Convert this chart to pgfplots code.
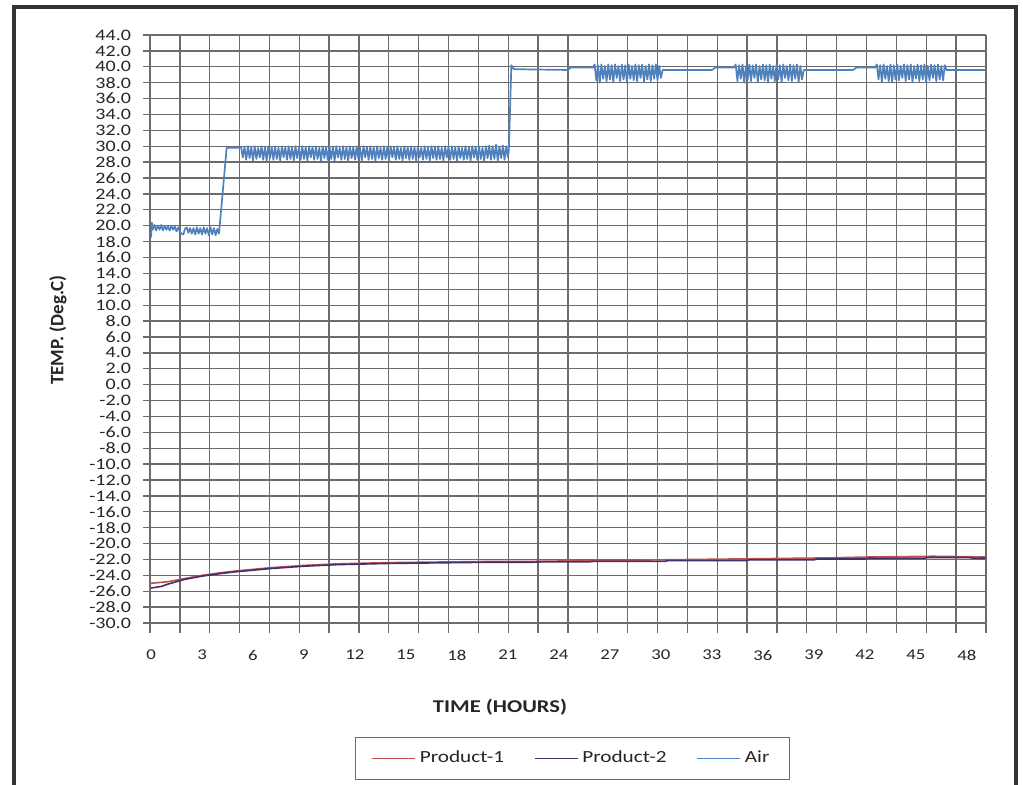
\documentclass[border=0pt]{standalone}
\usepackage{fontspec}
\setmainfont{Carlito}[FakeStretch=1.25]
\newfontfamily\plainfont{Carlito}
\usepackage{pgfplots}
\pgfplotsset{compat=1.18}
\definecolor{airblue}{RGB}{79,129,189}
\definecolor{prodone}{RGB}{192,80,77}
\definecolor{prodtwo}{RGB}{64,49,110}
\definecolor{gridc}{RGB}{108,108,108}

\pgfplotstableread{
h T
0 -25.0
0.5 -24.9
1.0 -24.8
1.5 -24.6
2.0 -24.4
2.5 -24.2
3.0 -24.0
3.5 -23.85
4 -23.7
5 -23.45
6 -23.25
7 -23.05
8 -22.9
9 -22.75
10 -22.65
11 -22.55
12 -22.5
14 -22.4
16 -22.35
18 -22.3
20 -22.25
22 -22.25
24 -22.2
26 -22.15
28 -22.1
30 -22.05
32 -22.0
34 -21.95
36 -21.9
38 -21.85
40 -21.8
42 -21.7
44 -21.65
46 -21.6
48 -21.65
49.1 -21.7
}\prodone

\pgfplotstableread{
h T
0 -25.6
0.3 -25.5
0.6 -25.4
1.0 -25.1
1.5 -24.8
2.0 -24.5
2.5 -24.3
3 -24.1
3.5 -23.95
4 -23.8
5 -23.55
6 -23.35
7 -23.15
8 -23.0
9 -22.85
10 -22.75
11 -22.65
12 -22.6
14 -22.5
16 -22.45
18 -22.4
20 -22.35
22.5 -22.35
23 -22.3
25.8 -22.3
26 -22.25
30.2 -22.25
30.4 -22.15
35 -22.15
35.2 -22.05
39 -22.05
39.2 -21.95
42 -21.95
42.2 -21.85
45.5 -21.85
45.7 -21.75
48 -21.75
48.5 -21.85
49.1 -21.85
}\prodtwo

\pgfplotstableread{
h T
0 18.5
0.05 20.4
0.1 19.5
0.2 20.1
0.3 19.4
0.4 20.0
0.5 19.5
0.6 20.1
0.7 19.4
0.8 20.0
0.9 19.5
1.0 19.9
1.1 19.4
1.2 20.0
1.3 19.5
1.4 19.9
1.5 19.3
1.6 19.8
1.7 19.2
1.8 19.0
1.9 18.9
2.0 19.6
2.1 19.8
2.2 19.1
2.3 19.7
2.4 19.0
2.5 19.7
2.6 18.9
2.7 19.8
2.8 19.0
2.9 19.7
3.0 18.9
3.1 19.8
3.2 19.0
3.3 19.7
3.4 18.8
3.5 19.8
3.6 18.9
3.7 19.7
3.8 18.8
3.9 19.6
4.0 19.0
4.45 29.8
5.1 29.8
5.3 29.9
5.4 28.6
5.5 29.9
5.6 28.3
5.7 30.0
5.8 28.5
5.9 29.9
6.0 28.2
6.1 30.0
6.2 28.4
6.3 29.8
6.4 28.6
6.5 30.0
6.6 28.3
6.7 29.9
6.8 28.2
6.9 30.0
7.0 28.5
7.1 29.9
7.2 28.3
7.3 30.0
7.4 28.4
7.5 29.8
7.6 28.2
7.7 30.0
7.8 28.6
7.9 29.9
8.0 28.3
8.1 30.0
8.2 28.4
8.3 29.9
8.4 28.2
8.5 30.0
8.6 28.5
8.7 29.8
8.8 28.3
8.9 30.0
9.0 28.4
9.1 29.9
9.2 28.2
9.3 30.0
9.4 28.6
9.5 29.9
9.6 28.3
9.7 30.0
9.8 28.4
9.9 29.8
10.0 28.2
10.1 30.0
10.2 28.5
10.3 29.9
10.4 28.3
10.5 30.0
10.6 28.4
10.7 29.9
10.8 28.2
10.9 30.0
11.0 28.6
11.1 29.8
11.2 28.3
11.3 30.0
11.4 28.4
11.5 29.9
11.6 28.2
11.7 30.0
11.8 28.5
11.9 29.9
12.0 28.3
12.1 30.0
12.2 28.4
12.3 29.8
12.4 28.2
12.5 30.0
12.6 28.6
12.7 29.9
12.8 28.3
12.9 30.0
13.0 28.4
13.1 29.9
13.2 28.2
13.3 30.0
13.4 28.5
13.5 29.8
13.6 28.3
13.7 30.0
13.8 28.4
13.9 29.9
14.0 28.2
14.1 30.0
14.2 28.6
14.3 29.9
14.4 28.3
14.5 30.0
14.6 28.4
14.7 29.8
14.8 28.2
14.9 30.0
15.0 28.5
15.1 29.9
15.2 28.3
15.3 30.0
15.4 28.4
15.5 29.9
15.6 28.2
15.7 30.0
15.8 28.6
15.9 29.8
16.0 28.3
16.1 30.0
16.2 28.4
16.3 29.9
16.4 28.2
16.5 30.0
16.6 28.5
16.7 29.9
16.8 28.3
16.9 30.0
17.0 28.4
17.1 29.8
17.2 28.2
17.3 30.0
17.4 28.6
17.5 29.9
17.6 28.3
17.7 30.0
17.8 28.4
17.9 29.9
18.0 28.2
18.1 30.0
18.2 28.5
18.3 29.8
18.4 28.3
18.5 30.0
18.6 28.4
18.7 29.9
18.8 28.2
18.9 30.0
19.0 28.6
19.1 29.9
19.2 28.3
19.3 30.0
19.4 28.4
19.5 29.8
19.6 28.2
19.7 30.0
19.8 28.5
19.9 30.1
20.0 28.3
20.1 30.0
20.2 28.4
20.3 30.2
20.4 28.2
20.5 30.0
20.6 28.5
20.7 30.1
20.8 28.3
20.9 30.0
21.0 28.6
21.05 29.5
21.2 40.2
21.35 39.7
24.5 39.6
24.7 39.9
26.0 39.9
26.1 40.3
26.2 38.3
26.3 40.2
26.4 38.0
26.5 40.3
26.6 38.5
26.7 40.1
26.8 38.2
26.9 40.3
27.0 38.4
27.1 40.2
27.2 38.1
27.3 40.3
27.4 38.6
27.5 40.1
27.6 38.2
27.7 40.3
27.8 38.4
27.9 40.2
28.0 38.0
28.1 40.3
28.2 38.5
28.3 40.1
28.4 38.3
28.5 40.3
28.6 38.2
28.7 40.2
28.8 38.6
28.9 40.3
29.0 38.1
29.1 40.1
29.2 38.4
29.3 40.3
29.4 38.2
29.5 40.2
29.6 38.5
29.7 40.3
29.8 38.3
29.9 40.1
30.0 38.6
30.1 39.6
33.0 39.6
33.2 39.9
34.3 39.9
34.4 40.3
34.5 38.2
34.6 40.2
34.7 38.5
34.8 40.3
34.9 38.0
35.0 40.1
35.1 38.4
35.2 40.3
35.3 38.2
35.4 40.2
35.5 38.6
35.6 40.3
35.7 38.1
35.8 40.1
35.9 38.4
36.0 40.3
36.1 38.3
36.2 40.2
36.3 38.0
36.4 40.3
36.5 38.5
36.6 40.1
36.7 38.2
36.8 40.3
36.9 38.4
37.0 40.2
37.1 38.1
37.2 40.3
37.3 38.6
37.4 40.1
37.5 38.3
37.6 40.3
37.7 38.2
37.8 40.2
37.9 38.5
38.0 40.3
38.1 38.1
38.2 40.1
38.3 38.4
38.4 39.6
41.3 39.6
41.5 39.9
42.6 39.9
42.7 40.3
42.8 38.4
42.9 40.2
43.0 38.1
43.1 40.3
43.2 38.5
43.3 40.1
43.4 38.2
43.5 40.3
43.6 38.0
43.7 40.2
43.8 38.4
43.9 40.3
44.0 38.3
44.1 40.1
44.2 38.6
44.3 40.3
44.4 38.2
44.5 40.2
44.6 38.4
44.7 40.3
44.8 38.1
44.9 40.1
45.0 38.5
45.1 40.3
45.2 38.2
45.3 40.2
45.4 38.4
45.5 40.3
45.6 38.0
45.7 40.1
45.8 38.3
45.9 40.3
46.0 38.6
46.1 40.2
46.2 38.2
46.3 40.3
46.4 38.4
46.5 40.1
46.6 38.3
46.7 40.2
46.8 39.6
49.1 39.6
}\airdata

\begin{document}
\begin{tikzpicture}
\path[use as bounding box] (-75pt,-80.5pt) rectangle (436.5pt,311.5pt);
\fill[white] (-75pt,-80.5pt) rectangle (436.5pt,311.5pt);
\draw[black!80, line width=1.6pt] (-68pt,-82pt) -- (-68pt,308pt) -- (433pt,308pt) -- (433pt,-82pt);
\begin{axis}[
  at={(0,0)}, anchor=south west,
  scale only axis, width=418pt, height=294pt,
  xmin=-0.06, xmax=49.125, ymin=-30, ymax=44,
  axis x line=bottom, axis y line=left,
  axis line style={-, gridc, line width=0.65pt},
  xtick={0,3,...,48},
  minor xtick={-0.06,1.69643,...,49.2},
  ytick={-30,-28,...,44},
  xmajorgrids=false, xminorgrids=true, ymajorgrids=true,
  grid style={gridc, line width=0.65pt},
  minor grid style={gridc, line width=0.65pt},
  tick align=outside,
  major tick length=3.5pt, minor tick length=5pt,
  tick style={gridc, line width=0.65pt},
  major x tick style={draw=none},
  yticklabel style={/pgf/number format/fixed, /pgf/number format/fixed zerofill, /pgf/number format/precision=1, /pgf/number format/assume math mode=true, font=\fontsize{8}{8}\selectfont, text=black!85, xshift=-2.5pt},
  xticklabel style={/pgf/number format/assume math mode=true, font=\fontsize{7.5}{8}\selectfont, text=black!85, yshift=-6.5pt},
  legend columns=3,
  legend style={at={(0.5054,-0.2304)}, anchor=center, draw=gridc, line width=0.5pt,
    font=\fontsize{8.5}{9}\selectfont, text=black!85,
    inner xsep=8pt, inner ysep=5pt,
    /tikz/every even column/.append style={column sep=13pt}},
  legend image code/.code={\draw[#1, line width=0.6pt] (0pt,0pt) -- (21.5pt,0pt);},
]
\addplot[prodone, line width=0.8pt, line join=round] table {\prodone};
\addlegendentry{Product-1}
\addplot[prodtwo, line width=0.8pt, line join=round] table {\prodtwo};
\addlegendentry{Product-2}
\addplot[airblue, line width=0.85pt, line join=round] table {\airdata};
\addlegendentry{Air}
\end{axis}
\node[font=\bfseries\fontsize{9}{10}\selectfont, text=black!85] at (175pt,-42pt) {TIME (HOURS)};
\node[rotate=90, font=\plainfont\bfseries\fontsize{9.5}{10}\selectfont, text=black!85] at (-46pt,146.5pt) {TEMP. (Deg.C)};
\end{tikzpicture}
\end{document}
